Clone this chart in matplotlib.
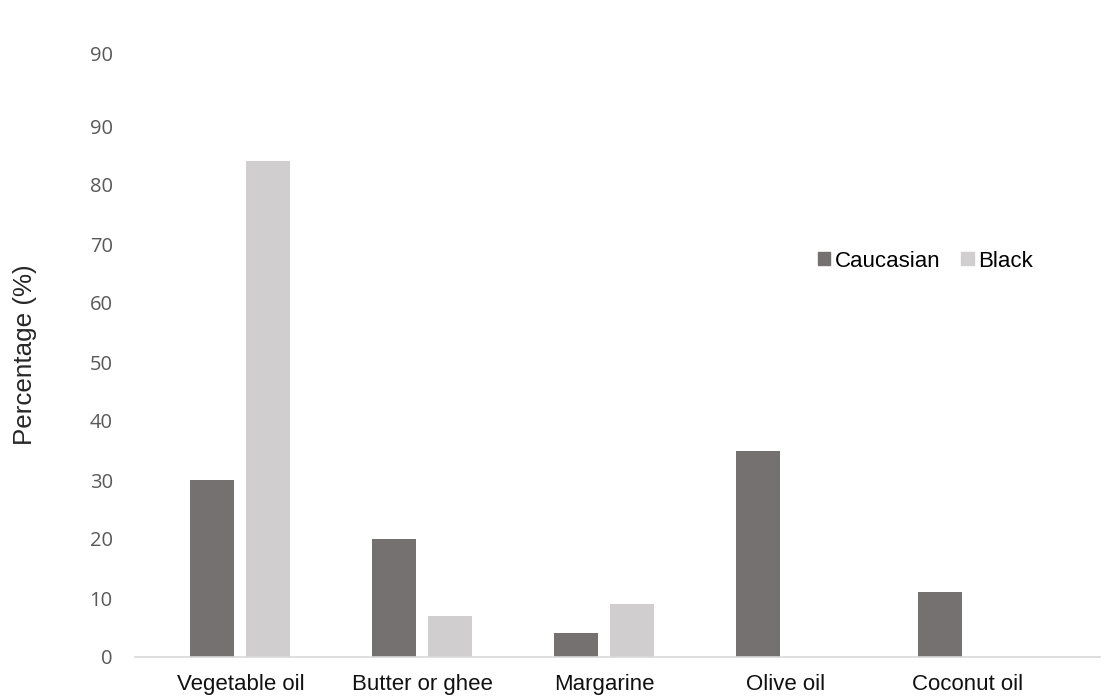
import matplotlib
matplotlib.use('Agg')
import matplotlib.pyplot as plt
from matplotlib.patches import Patch
import numpy as np

# Fat types used, percentage of respondents by group
categories = ['Vegetable oil', 'Butter or ghee', 'Margarine', 'Olive oil', 'Coconut oil']
caucasian = [30, 20, 4, 35, 11]
black = [84, 7, 9, 0, 0]
y_ticks = [0, 10, 20, 30, 40, 50, 60, 70, 80, 90]

dark_grey = '#767171'
light_grey = '#d0cece'

fig = plt.figure(figsize=(11.04, 6.97), dpi=100)
ax = fig.add_axes([135 / 1104, 40 / 697, 965 / 1104, 590 / 697])

x = np.arange(len(categories))
width = 0.242
offset = 0.154
ax.bar(x - offset, caucasian, width, color=dark_grey, label='Caucasian')
ax.bar(x + offset, black, width, color=light_grey, label='Black')

ax.set_xlim(-0.579, 4.726)
ax.set_ylim(0, 100)

ax.set_xticks(x)
ax.set_xticklabels(categories, fontsize=16, family='Liberation Sans', color='#111111')
ax.set_yticks(y_ticks)
ax.set_yticklabels([str(v) for v in y_ticks], fontsize=14.5, family='Open Sans', color='#595959')
ax.tick_params(axis='x', length=0, pad=12)
ax.tick_params(axis='y', length=0, pad=16)

# extra label above the top tick
ax.annotate('90', xy=(0, 101.9), xycoords=ax.get_yaxis_transform(),
            xytext=(-16, 0), textcoords='offset points', ha='right', va='center',
            fontsize=14.5, family='Open Sans', color='#595959', annotation_clip=False)

for side in ['top', 'right', 'left']:
    ax.spines[side].set_visible(False)
ax.spines['bottom'].set_color('#d9d9d9')
ax.spines['bottom'].set_linewidth(1.2)

fig.text(25 / 1104, 1 - 355 / 697, 'Percentage (%)', rotation=90, ha='center', va='center',
         fontsize=18.7, family='Liberation Sans', color='#262626')

handles = [Patch(color=dark_grey, label='Caucasian'), Patch(color=light_grey, label='Black')]
fig.legend(handles=handles, loc='center left', bbox_to_anchor=(818 / 1104, 1 - 261 / 697),
           ncol=2, frameon=False, borderpad=0, borderaxespad=0,
           handlelength=0.55, handleheight=0.55, handletextpad=0.2, columnspacing=0.95,
           prop={'family': 'Liberation Sans', 'size': 16})

fig.savefig('out.png', dpi=100)
